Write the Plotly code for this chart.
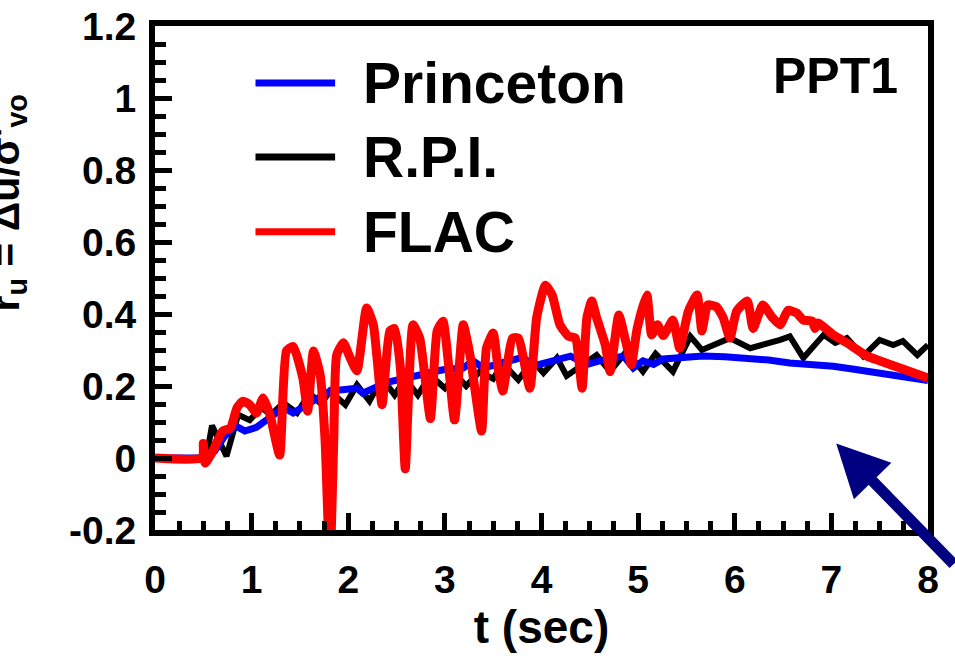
import plotly.graph_objects as go

# ---- data ----
t_princeton = [0, 0.55, 0.62, 0.72, 0.83, 0.93, 1.05, 1.19, 1.33, 1.43, 1.53, 1.65, 1.81, 2.09, 2.15,
               2.4, 2.71, 2.98, 3.19, 3.29, 3.4, 3.6, 3.81, 3.91, 4.06, 4.3, 4.47, 4.6, 4.85, 4.95,
               5.05, 5.16, 5.26, 5.45, 5.67, 5.9, 6.13, 6.35, 6.57, 6.8, 7.02, 7.2, 7.37, 7.7, 8.0]
ru_princeton = [0, 0, 0.02, 0.06, 0.09, 0.075, 0.085, 0.11, 0.14, 0.125, 0.14, 0.16, 0.186, 0.194, 0.18,
                0.21, 0.23, 0.245, 0.25, 0.27, 0.25, 0.265, 0.28, 0.255, 0.265, 0.283, 0.26, 0.27, 0.283, 0.25,
                0.27, 0.26, 0.275, 0.28, 0.283, 0.281, 0.278, 0.272, 0.264, 0.26, 0.255, 0.248, 0.24, 0.228, 0.215]

t_rpi = [0, 0.53, 0.59, 0.74, 0.86, 0.98, 1.1, 1.2, 1.33, 1.47, 1.6, 1.72, 1.81, 1.97, 2.09, 2.22,
         2.35, 2.48, 2.59, 2.72, 2.85, 3.0, 3.12, 3.22, 3.36, 3.5, 3.6, 3.76, 3.91, 4.02, 4.16, 4.26,
         4.57, 4.71, 4.88, 5.05, 5.18, 5.36, 5.54, 5.66, 5.95, 6.16, 6.47, 6.57, 6.71, 6.92, 7.04,
         7.16, 7.33, 7.5, 7.64, 7.74, 7.89, 8.0]
ru_rpi = [0, 0, 0.09, 0.005, 0.12, 0.105, 0.14, 0.12, 0.153, 0.125, 0.18, 0.15, 0.186, 0.148, 0.203, 0.158,
          0.222, 0.175, 0.22, 0.175, 0.23, 0.194, 0.23, 0.2, 0.24, 0.22, 0.263, 0.217, 0.27, 0.236, 0.278, 0.228,
          0.286, 0.24, 0.297, 0.24, 0.29, 0.24, 0.338, 0.3, 0.333, 0.305, 0.328, 0.338, 0.278, 0.342, 0.32,
          0.333, 0.283, 0.328, 0.314, 0.325, 0.286, 0.314]

t_flac = [0, 0.49, 0.5, 0.52, 0.6, 0.7, 0.78, 0.85, 0.91, 0.98, 1.05, 1.12, 1.19, 1.29, 1.36, 1.43,
          1.53, 1.58, 1.64, 1.71, 1.76, 1.81, 1.85, 1.88, 1.95, 2.02, 2.09, 2.19, 2.26, 2.35, 2.43, 2.48,
          2.54, 2.59, 2.67, 2.74, 2.85, 2.92, 2.98, 3.1, 3.19, 3.26, 3.38, 3.43, 3.5, 3.55, 3.6, 3.7,
          3.76, 3.88, 3.95, 4.04, 4.11, 4.19, 4.28, 4.35, 4.42, 4.47, 4.52, 4.57, 4.66, 4.71, 4.8, 4.88,
          4.93, 4.99, 5.09, 5.14, 5.2, 5.26, 5.36, 5.43, 5.52, 5.61, 5.66, 5.72, 5.81, 5.88, 5.95, 6.02,
          6.13, 6.19, 6.29, 6.39, 6.47, 6.55, 6.64, 6.71, 6.8, 6.83, 6.86, 7.02, 7.16, 7.37, 7.5, 7.71, 8.0]
ru_flac = [0, 0, 0.04, -0.014, 0.02, 0.075, 0.083, 0.14, 0.158, 0.148, 0.125, 0.167, 0.12, 0.008, 0.297, 0.31,
           0.222, 0.13, 0.297, 0.23, 0.05, -0.3, 0.05, 0.286, 0.32, 0.278, 0.242, 0.417, 0.37, 0.148, 0.353, 0.36,
           0.25, -0.03, 0.37, 0.333, 0.11, 0.353, 0.38, 0.106, 0.37, 0.286, 0.075, 0.305, 0.347, 0.25, 0.186, 0.333,
           0.333, 0.194, 0.39, 0.48, 0.453, 0.37, 0.338, 0.333, 0.194, 0.39, 0.436, 0.39, 0.314, 0.24, 0.397, 0.314,
           0.26, 0.36, 0.453, 0.342, 0.37, 0.34, 0.383, 0.305, 0.408, 0.453, 0.353, 0.425, 0.42, 0.39, 0.333, 0.408,
           0.436, 0.36, 0.425, 0.39, 0.37, 0.41, 0.403, 0.383, 0.38, 0.36, 0.375, 0.342, 0.32, 0.283, 0.27, 0.25, 0.222]

x_tickvals = [0, 1, 2, 3, 4, 5, 6, 7, 8]
x_ticktext = ["0", "1", "2", "3", "4", "5", "6", "7", "8"]
y_tickvals = [-0.2, 0, 0.2, 0.4, 0.6, 0.8, 1.0, 1.2]
y_ticktext = ["-0.2", "0", "0.2", "0.4", "0.6", "0.8", "1", "1.2"]

series_names = ["Princeton", "R.P.I.", "FLAC"]
series_colors = ["#0000FF", "#000000", "#FF0000"]

FONT = "Liberation Sans, Arial, sans-serif"

fig = go.Figure()
fig.add_trace(go.Scatter(x=t_rpi, y=ru_rpi, mode="lines", name="R.P.I.",
                         line=dict(color="#000000", width=6), showlegend=False))
fig.add_trace(go.Scatter(x=t_princeton, y=ru_princeton, mode="lines", name="Princeton",
                         line=dict(color="#0000FF", width=7), showlegend=False))
fig.add_trace(go.Scatter(x=t_flac, y=ru_flac, mode="lines", name="FLAC",
                         line=dict(color="#FF0000", width=9, shape="spline", smoothing=0.5),
                         showlegend=False))

axis_common = dict(
    showline=True, linewidth=6, linecolor="black", mirror=True,
    ticks="inside", ticklen=17, tickwidth=5, tickcolor="black",
    showgrid=False, zeroline=False, automargin=False,
    tickfont=dict(family=FONT, size=39, color="black", weight="bold"),
)

fig.update_xaxes(range=[0, 8], tickvals=x_tickvals, ticktext=x_ticktext,
                 minor=dict(ticks="inside", ticklen=9, tickwidth=5, tickcolor="black", dtick=0.25, tick0=0),
                 ticklabelstandoff=10,
                 title=dict(text="t (sec)", font=dict(family=FONT, size=46, color="black", weight="bold"),
                            standoff=12),
                 **axis_common)
fig.update_yaxes(range=[-0.2, 1.2], tickvals=y_tickvals, ticktext=y_ticktext,
                 minor=dict(ticks="inside", ticklen=11, tickwidth=5, tickcolor="black", dtick=0.05, tick0=0),
                 ticklabelstandoff=5,
                 **axis_common)

# legend drawn manually (long line samples)
legend_y = [0.887, 0.74, 0.592]
shapes = []
annotations = []
for name, color, ly in zip(series_names, series_colors, legend_y):
    shapes.append(dict(type="line", xref="paper", yref="paper", x0=0.13, x1=0.233, y0=ly, y1=ly,
                       line=dict(color=color, width=7)))
    annotations.append(dict(xref="paper", yref="paper", x=0.266, y=ly, xanchor="left", yanchor="middle",
                            text=name, showarrow=False,
                            font=dict(family=FONT, size=57, color="black", weight="bold")))

annotations.append(dict(xref="paper", yref="paper", x=0.88, y=0.9, xanchor="center", yanchor="middle",
                        text="PPT1", showarrow=False,
                        font=dict(family=FONT, size=50, color="black", weight="bold")))

# y-axis title (partly outside the page, as in the original)
annotations.append(dict(xref="paper", yref="paper", x=-0.19, y=0.648, xanchor="center", yanchor="middle",
                        text="r<sub>u</sub> = Δu/σ'<sub>vo</sub>", textangle=-90, showarrow=False,
                        font=dict(family=FONT, size=41, color="black", weight="bold")))

# arrow
annotations.append(dict(x=7.05, y=0.04, xref="x", yref="y", text="", showarrow=True,
                        ax=144, ay=122, arrowcolor="#000080", arrowwidth=11, arrowhead=2,
                        arrowsize=0.95, standoff=0))

fig.update_layout(
    width=955, height=669,
    margin=dict(l=155, r=27, t=26, b=139),
    paper_bgcolor="white", plot_bgcolor="white",
    shapes=shapes, annotations=annotations,
    showlegend=False,
)

fig.write_html("out.html", config={"displayModeBar": False},
               post_script="document.body.style.margin='0px';")
